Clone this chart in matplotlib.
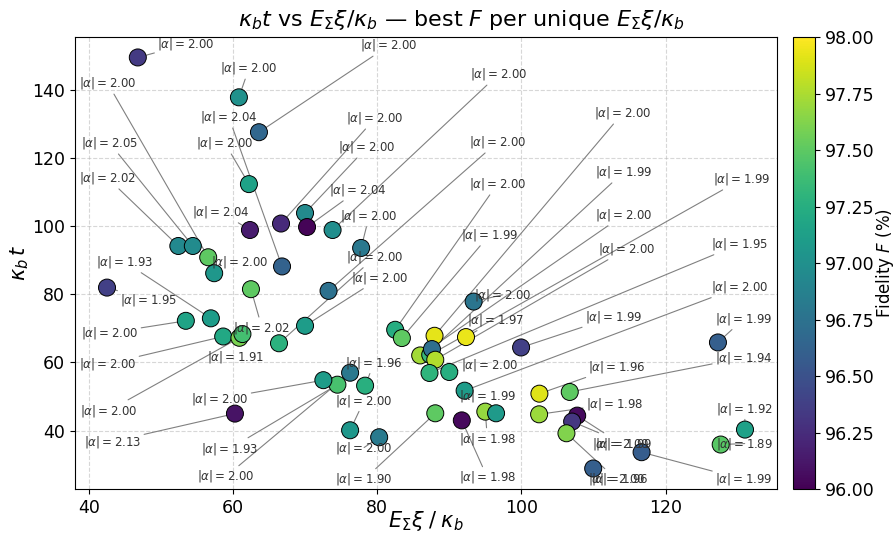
import numpy as np
import matplotlib
matplotlib.use("Agg")
from matplotlib import pyplot as plt
from matplotlib.colors import Normalize

# best fidelity for each unique E_Sigma*xi/kappa_b
e_xi = [
    46.81, 60.83, 63.61, 62.22, 52.43, 54.44, 56.57, 57.40, 62.36, 66.67,
    70.00, 70.28, 73.82, 66.81, 42.54, 62.50, 53.47, 56.94, 58.65, 60.90,
    61.32, 66.39, 70.00, 73.26, 77.78, 60.28,
    93.38, 82.50, 83.43, 87.96, 92.32, 99.96, 85.97, 87.36, 87.60, 88.06,
    87.26, 90.00, 92.13, 88.06, 91.74, 95.00, 96.49, 102.50, 106.71, 102.46,
    107.74, 107.04, 106.25, 80.28, 76.25, 76.25, 74.49, 78.33, 72.54, 109.96,
    116.67, 127.26, 131.01, 127.64,
]
kappa_t = [
    149.50, 137.80, 127.56, 112.33, 94.17, 94.17, 90.86, 86.18, 98.86, 100.76,
    103.84, 99.74, 98.86, 88.17, 81.96, 81.49, 72.21, 72.94, 67.61, 67.23,
    68.32, 65.62, 70.75, 81.00, 93.59, 44.98,
    77.86, 69.58, 67.15, 67.82, 67.44, 64.39, 62.05, 62.25, 63.92, 60.79,
    56.90, 57.19, 51.71, 45.07, 42.99, 45.56, 45.07, 50.83, 51.33, 44.77,
    44.39, 42.64, 39.21, 38.04, 40.09, 56.98, 53.47, 53.18, 54.79, 28.87,
    33.65, 65.86, 40.29, 35.90,
]
fidelity = [
    96.34, 97.00, 96.66, 97.15, 96.94, 96.96, 97.50, 97.06, 96.15, 96.24,
    96.95, 96.02, 96.98, 96.62, 96.38, 97.50, 97.16, 97.10, 97.20, 97.60,
    97.40, 97.28, 97.10, 96.74, 96.80, 96.10,
    96.78, 97.24, 97.50, 97.92, 97.93, 96.38, 97.72, 97.35, 96.72, 97.77,
    97.30, 97.25, 97.10, 97.50, 96.04, 97.68, 97.08, 97.90, 97.50, 97.70,
    96.06, 96.32, 97.62, 96.82, 97.06, 96.80, 97.42, 97.26, 97.10, 96.60,
    96.58, 96.60, 97.14, 97.48,
]
alpha_abs = [
    "2.00", "2.00", "2.00", "2.00", "2.02", "2.05", "2.00", "2.00", "2.04", "2.00",
    "2.00", "2.04", "2.00", "2.04", "1.95", "2.02", "2.00", "1.93", "2.00", "2.00",
    "1.91", "2.00", "2.00", "2.00", "2.00", "2.13",
    "2.00", "2.00", "1.99", "2.00", "1.97", "1.99", "2.00", "1.99", "1.99", "2.00",
    "1.95", "2.00", "2.00", "1.90", "1.98", "1.98", "1.99", "1.96", "1.94", "1.98",
    "2.00", "1.99", "2.00", "2.00", "2.00", "2.00", "1.93", "1.96", "2.00", "1.96",
    "1.99", "1.99", "1.92", "1.89",
]

# where each |alpha| tag is placed (data coords, text centre)
tag_pos = [
    (53.47, 153.32), (62.22, 146.30), (81.67, 153.03), (58.89, 124.33), (42.64, 114.08),
    (42.92, 124.33), (42.64, 141.90), (60.97, 89.49), (58.33, 104.13), (79.72, 131.66),
    (78.61, 123.16), (77.36, 110.57), (96.81, 144.54), (59.44, 131.95), (48.33, 78.36),
    (64.03, 70.16), (42.92, 68.70), (45.00, 89.49), (42.64, 59.62), (42.78, 45.86),
    (60.42, 61.67), (79.72, 90.95), (80.42, 84.80), (96.67, 124.63), (78.89, 102.96),
    (43.33, 36.78),
    (97.36, 79.82), (96.67, 112.33), (95.56, 97.39), (114.03, 133.12), (96.39, 72.50),
    (112.78, 73.38), (114.17, 103.25), (130.56, 113.79), (114.17, 115.84), (114.58, 93.29),
    (130.28, 94.76), (95.56, 59.33), (130.28, 82.17), (78.19, 25.65), (95.28, 26.24),
    (95.28, 37.66), (95.28, 50.25), (113.19, 58.74), (130.83, 61.38), (112.92, 47.91),
    (113.75, 36.19), (114.25, 36.19), (113.19, 25.65), (78.19, 35.02), (78.19, 48.78),
    (59.03, 26.53), (59.58, 34.73), (79.58, 59.91), (58.19, 49.37), (113.61, 25.65),
    (130.83, 25.65), (130.83, 72.80), (130.97, 46.44), (130.97, 36.19),
]

fig = plt.figure(figsize=(8.96, 5.41), dpi=100)
ax = fig.add_axes([0.0837, 0.0961, 0.7835, 0.8355])
cax = fig.add_axes([0.885, 0.0961, 0.0246, 0.8355])

norm = Normalize(vmin=96.0, vmax=98.0)
sc = ax.scatter(e_xi, kappa_t, c=fidelity, cmap="viridis", norm=norm,
                s=150, edgecolors="black", linewidths=0.7, zorder=3)

for xp, yp, a, (tx, ty) in zip(e_xi, kappa_t, alpha_abs, tag_pos):
    lab = r"$|\alpha| = %s$" % a
    # connector only (text invisible so the line stops at the label box)
    ax.annotate(lab, xy=(xp, yp), xytext=(tx, ty), color="none",
                ha="center", va="center", fontsize=8.5, zorder=2,
                arrowprops=dict(arrowstyle="-", color="gray", lw=0.8,
                                shrinkA=0, shrinkB=0))
    ax.text(tx, ty, lab, ha="center", va="center", fontsize=8.5,
            color="#333333", zorder=4)

ax.set_xlim(38.1, 135.45)
ax.set_ylim(22.85, 155.5)
ax.set_xticks([40, 60, 80, 100, 120])
ax.set_yticks([40, 60, 80, 100, 120, 140])
ax.tick_params(labelsize=12.5)
ax.grid(True, linestyle="--", alpha=0.5)
ax.set_axisbelow(True)
ax.set_xlabel(r"$E_\Sigma\xi\;/\;\kappa_b$", fontsize=15)
ax.xaxis.set_label_coords(0.5, -0.045)
ax.set_ylabel(r"$\kappa_b\,t$", fontsize=15)
ax.yaxis.set_label_coords(-0.062, 0.5)

fig.text(0.5145, 0.963,
         r"$\kappa_b t$ vs $E_\Sigma\xi/\kappa_b$ — best $F$ per unique $E_\Sigma\xi/\kappa_b$",
         ha="center", va="center", fontsize=16)

cb = fig.colorbar(sc, cax=cax, ticks=np.arange(96.0, 98.01, 0.25), format="%.2f")
cb.ax.tick_params(labelsize=12.5)
cb.set_label(r"Fidelity $F$ (%)", fontsize=12, labelpad=0)

fig.savefig("out.png", dpi=100)
